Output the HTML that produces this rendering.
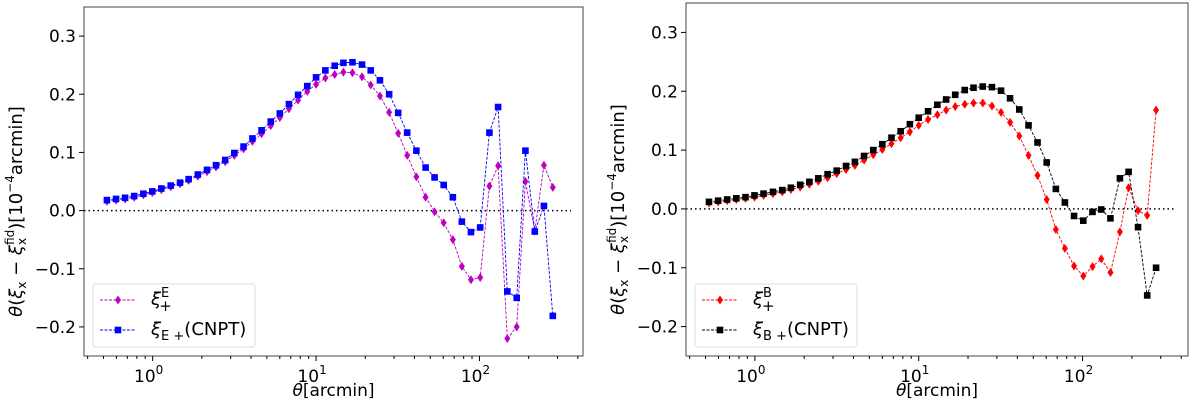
<!DOCTYPE html>
<html><head><meta charset="utf-8"><style>
body{margin:0;background:#fff}
svg{display:block;font-family:"DejaVu Sans","Liberation Sans",sans-serif}
</style></head><body>
<svg id="fig" width="1200" height="410" viewBox="0 0 1200 410"></svg>
<script>
const theta=[0.525,0.597,0.678,0.771,0.877,0.995,1.13,1.29,1.47,1.66,1.89,2.15,2.44,2.78,3.16,3.60,4.08,4.64,5.28,6.00,6.82,7.76,8.83,10.0,11.4,13.0,14.7,16.7,19.1,21.6,24.6,28.0,31.8,36.1,41.1,46.8,53.1,60.4,68.7,78.0,88.7,101,115,130,148,169,191,218,248,281];
const xiE=[0.016,0.018,0.020,0.023,0.027,0.031,0.036,0.041,0.046,0.052,0.059,0.067,0.075,0.084,0.095,0.106,0.119,0.132,0.146,0.160,0.175,0.190,0.205,0.217,0.228,0.234,0.238,0.237,0.230,0.216,0.197,0.169,0.133,0.095,0.058,0.023,-0.002,-0.021,-0.050,-0.096,-0.119,-0.115,0.042,0.077,-0.220,-0.200,0.050,-0.035,0.078,0.040];
const xiEC=[0.018,0.020,0.022,0.025,0.029,0.033,0.038,0.043,0.048,0.054,0.062,0.070,0.078,0.087,0.099,0.110,0.124,0.138,0.153,0.167,0.183,0.199,0.214,0.229,0.241,0.249,0.254,0.255,0.251,0.241,0.224,0.200,0.168,0.134,0.103,0.074,0.057,0.044,0.023,-0.019,-0.037,-0.029,0.134,0.178,-0.139,-0.150,0.103,-0.036,0.008,-0.181];
const xiB=[0.010,0.012,0.014,0.016,0.018,0.020,0.023,0.026,0.029,0.033,0.037,0.042,0.047,0.053,0.060,0.067,0.074,0.083,0.092,0.101,0.111,0.121,0.131,0.142,0.152,0.160,0.168,0.174,0.178,0.180,0.180,0.175,0.164,0.147,0.124,0.091,0.057,0.016,-0.035,-0.067,-0.097,-0.114,-0.098,-0.085,-0.108,-0.039,0.036,-0.003,-0.011,0.168];
const xiBC=[0.012,0.014,0.016,0.018,0.020,0.023,0.026,0.029,0.032,0.036,0.041,0.046,0.052,0.059,0.065,0.073,0.080,0.090,0.100,0.110,0.121,0.132,0.144,0.155,0.166,0.177,0.186,0.194,0.202,0.206,0.208,0.207,0.201,0.188,0.169,0.142,0.113,0.079,0.034,0.011,-0.012,-0.020,-0.005,-0.001,-0.016,0.052,0.063,-0.031,-0.147,-0.100];
const yTicks=[-0.2,-0.1,0.0,0.1,0.2,0.3];
const xDecades=[0,1,2];

const NS="http://www.w3.org/2000/svg";
const svg=document.getElementById('fig');
function mk(tag,attrs,parent){const e=document.createElementNS(NS,tag);for(const k in attrs)e.setAttribute(k,attrs[k]);(parent||svg).appendChild(e);return e;}

function panel(o){
  const g=mk('g',{});
  
  
  const lx0=Math.log10(0.38),lx1=Math.log10(o.xmax);
  const X=v=>o.L+(Math.log10(v)-lx0)/(lx1-lx0)*(o.R-o.L);
  const Y=v=>o.T+(0.35-v)/0.6*(o.B-o.T);
  const z=mk('line',{x1:o.L,x2:o.R-12,y1:Y(0),y2:Y(0),stroke:'#000','stroke-width':1.5,'stroke-dasharray':'1.5,3'},g);
  
  
  o.series.forEach(s=>{
    const sg=mk('g',{},g);
    
    
    const pts=theta.map((t,i)=>X(t).toFixed(1)+','+Y(s.data[i]).toFixed(1)).join(' ');
    mk('polyline',{points:pts,fill:'none',stroke:s.color,'stroke-width':0.9,'stroke-dasharray':'3,1.5'},sg);
    theta.forEach((t,i)=>{
      const x=X(t),y=Y(s.data[i]);let m;
      if(s.marker==='d')m=mk('polygon',{points:`${x},${y-4.5} ${x+3},${y} ${x},${y+4.5} ${x-3},${y}`,fill:s.color},sg);
      else m=mk('rect',{x:x-3.3,y:y-3.3,width:6.6,height:6.6,fill:s.color},sg);
      
      
    });
  });
  const f=mk('rect',{x:o.L,y:o.T,width:o.R-o.L,height:o.B-o.T,fill:'none',stroke:'#444','stroke-width':1},g);
  
  
  yTicks.forEach(v=>{
    mk('line',{x1:o.L-5,x2:o.L,y1:Y(v),y2:Y(v),stroke:'#000'},g);
    const t=mk('text',{x:o.L-8,y:Y(v)+6,'text-anchor':'end','font-size':17},g);
    t.textContent=(v<0?'\u2212':'')+Math.abs(v).toFixed(1);
    
    
  });
  for(let d=-1;d<=2;d++)for(let m=1;m<=9;m++){
    const v=m*Math.pow(10,d);if(v<0.38||v>o.xmax)continue;
    mk('line',{x1:X(v),x2:X(v),y1:o.B,y2:o.B+(m===1?5:3),stroke:'#000'},g);
  }
  xDecades.forEach(d=>{
    const t=mk('text',{x:X(Math.pow(10,d))-4,y:o.B+26,'text-anchor':'middle','font-size':17},g);
    t.textContent='10';
    const s=mk('tspan',{dy:-8,'font-size':12},t);s.textContent=String(d);
    
    
  });
  const xl=mk('text',{x:(o.L+o.R)/2,y:396,'text-anchor':'middle','font-size':17},g);
  xl.innerHTML='<tspan font-style="italic">θ</tspan>[arcmin]';
  
  
  const yl=mk('text',{transform:`translate(${o.L-62},${(o.T+o.B)/2+30}) rotate(-90)`,'text-anchor':'middle','font-size':18},g);
  yl.innerHTML='<tspan font-style="italic">θ</tspan>(<tspan font-style="italic">ξ</tspan><tspan font-size="12" dy="4">x</tspan><tspan dy="-4"> − </tspan><tspan font-style="italic">ξ</tspan><tspan font-size="12" dy="4">x</tspan><tspan font-size="12" dx="-7" dy="-12">fid</tspan><tspan dy="8">)[10</tspan><tspan font-size="12" dy="-8">−4</tspan><tspan dy="8">arcmin]</tspan>';
  
  
  const lg=mk('g',{},g);
  
  
  const lx=o.L+9;
  mk('rect',{x:lx,y:284,width:162,height:63,rx:3,fill:'#fff',stroke:'#ddd'},lg);
  o.series.forEach((s,k)=>{
    const y=300+k*30;
    const e=mk('g',{},lg);
    
    
    mk('line',{x1:lx+7,x2:lx+43,y1:y,y2:y,stroke:s.color,'stroke-width':0.9,'stroke-dasharray':'3,1.5'},e);
    const cx=lx+25;
    if(s.marker==='d')mk('polygon',{points:`${cx},${y-4.5} ${cx+3},${y} ${cx},${y+4.5} ${cx-3},${y}`,fill:s.color},e);
    else mk('rect',{x:cx-3.3,y:y-3.3,width:6.6,height:6.6,fill:s.color},e);
    const t=mk('text',{x:lx+58,y:y+5,'font-size':18},e);
    t.innerHTML=s.label;
  });
}

panel({name:'e-mode-panel',L:84,R:583,T:7,B:356,xmax:430,series:[
 {name:'series-xi-plus-e',data:xiE,color:'#bf00bf',marker:'d',label:'<tspan font-style="italic">ξ</tspan><tspan font-size="13" dy="-8">E</tspan><tspan font-size="15" dx="-10" dy="14">+</tspan>'},
 {name:'series-xi-e-plus-cnpt',data:xiEC,color:'#0000ff',marker:'s',label:'<tspan font-style="italic">ξ</tspan><tspan font-size="13" dy="5">E +</tspan><tspan dy="-5">(CNPT)</tspan>'}]});
panel({name:'b-mode-panel',L:686,R:1188,T:3,B:356,xmax:440,series:[
 {name:'series-xi-plus-b',data:xiB,color:'#ff0000',marker:'d',label:'<tspan font-style="italic">ξ</tspan><tspan font-size="13" dy="-8">B</tspan><tspan font-size="15" dx="-10" dy="14">+</tspan>'},
 {name:'series-xi-b-plus-cnpt',data:xiBC,color:'#000000',marker:'s',label:'<tspan font-style="italic">ξ</tspan><tspan font-size="13" dy="5">B +</tspan><tspan dy="-5">(CNPT)</tspan>'}]});
</script>
</body></html>
